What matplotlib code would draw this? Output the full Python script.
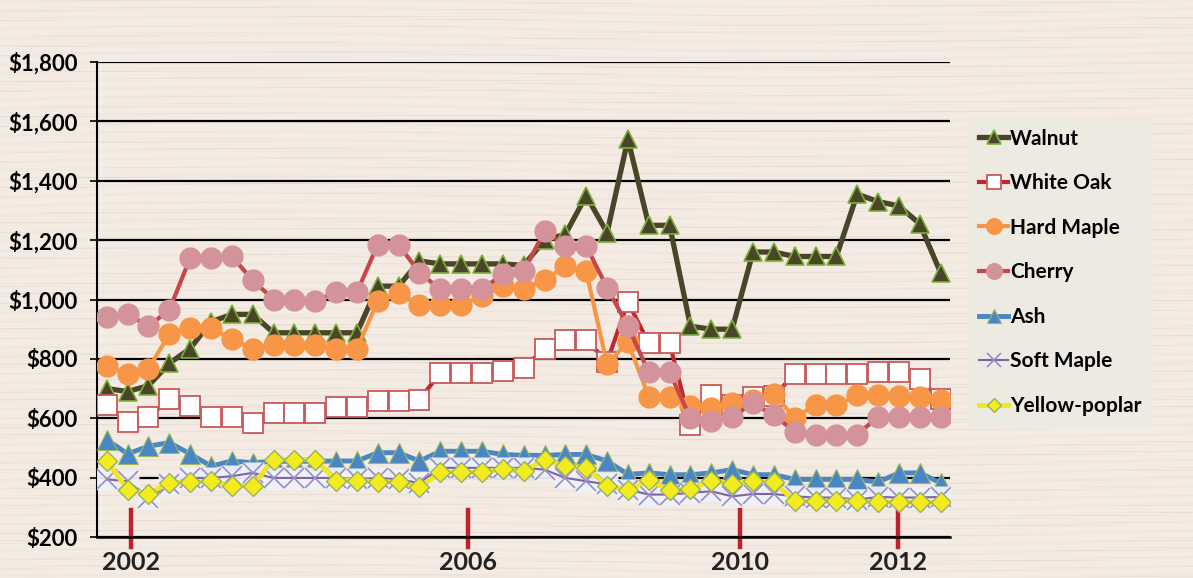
import matplotlib
matplotlib.use("Agg")
import matplotlib.pyplot as plt
import numpy as np

# precios trimestrales por especie ($/MBF)
walnut = [700, 690, 710, 785, 835, 925, 950, 950, 888, 888, 888, 888, 888, 1045, 1045,
          1130, 1120, 1120, 1120, 1120, 1115, 1200, 1220, 1350, 1225, 1540, 1250, 1250,
          910, 900, 900, 1160, 1160, 1145, 1145, 1145, 1355, 1330, 1315, 1255, 1090]
white_oak = [646, 587, 603, 665, 641, 603, 603, 584, 618, 618, 618, 638, 638, 658, 658,
             663, 753, 753, 753, 759, 770, 835, 864, 864, 790, 992, 852, 852, 579, 680,
             645, 670, 674, 750, 750, 750, 750, 757, 757, 731, 665]
hard_maple = [775, 748, 767, 883, 905, 905, 866, 834, 846, 846, 846, 834, 834, 995, 1023,
              982, 982, 982, 1012, 1046, 1035, 1067, 1112, 1095, 782, 857, 672, 672, 641,
              635, 650, 660, 683, 601, 645, 645, 677, 680, 675, 672, 660]
cherry = [940, 950, 910, 965, 1140, 1140, 1145, 1065, 1000, 1000, 995, 1025, 1025, 1185,
          1185, 1090, 1035, 1035, 1035, 1085, 1095, 1230, 1180, 1180, 1040, 910, 755, 755,
          600, 590, 605, 650, 610, 555, 545, 545, 545, 605, 605, 605, 605]
ash = [528, 480, 506, 518, 480, 439, 456, 450, 455, 455, 455, 456, 456, 484, 484, 456,
       489, 489, 489, 478, 475, 475, 478, 478, 456, 411, 416, 410, 410, 416, 427, 410,
       410, 394, 394, 394, 394, 385, 416, 416, 382]
soft_maple = [394, 388, 332, 377, 399, 399, 405, 416, 399, 399, 399, 399, 395, 399, 394,
              382, 433, 433, 433, 433, 433, 427, 399, 388, 377, 360, 343, 343, 349, 354,
              337, 345, 345, 337, 333, 333, 326, 335, 333, 333, 335]
yellow_poplar = [456, 360, 346, 382, 385, 388, 373, 373, 461, 461, 461, 390, 390, 386,
                 385, 367, 418, 418, 418, 430, 421, 461, 438, 433, 373, 358, 392, 358,
                 363, 388, 380, 388, 385, 321, 321, 321, 321, 317, 317, 317, 317]

year_pos = [1.15, 17.34, 30.37, 37.95]
year_labels = ["2002", "2006", "2010", "2012"]
y_ticks = [200, 400, 600, 800, 1000, 1200, 1400, 1600, 1800]

x = np.arange(len(walnut))
font = "Lato"

fig = plt.figure(figsize=(11.93, 5.78), dpi=100)
fig.patch.set_facecolor("#F4EAE2")

# fondo tipo madera (vetas horizontales suaves)
bg = fig.add_axes([0, 0, 1, 1], zorder=-10)
yy = np.linspace(0, 1, 578)[:, None]
xx = np.linspace(0, 1, 1193)[None, :]
veta = (0.5 * np.sin(yy * 410 + 3 * np.sin(xx * 7)) + 0.3 * np.sin(yy * 1130 + xx * 5)
        + 0.2 * np.sin(yy * 2600 + 2 * np.sin(xx * 13)))
veta = (veta - veta.min()) / (veta.max() - veta.min())
base = np.array([245, 236, 228]) / 255.0
oscuro = np.array([232, 220, 211]) / 255.0
tex = base + (oscuro - base) * (veta[..., None] ** 4)
bg.imshow(tex, aspect="auto", extent=[0, 1, 0, 1])
bg.axis("off")

ax = fig.add_axes([0.0813, 0.0709, 0.715, 0.8218])
ax.set_facecolor("none")

ax.plot(x, walnut, color="#4A4528", lw=3.8, marker="^", ms=13, mfc="#4A4528",
        mec="#7DAF3C", mew=1.2, label="Walnut", zorder=3)
ax.plot(x, white_oak, color="#C0282D", lw=3, marker="s", ms=14, mfc="white",
        mec="#C9585A", mew=1.3, label="White Oak", zorder=4)
ax.plot(x, hard_maple, color="#F79646", lw=3, marker="o", ms=15, mfc="#F79646",
        mec="#F79646", label="Hard Maple", zorder=5)
ax.plot(x, cherry, color="#C8454A", lw=3, marker="o", ms=15, mfc="#D4939A",
        mec="#D4939A", label="Cherry", zorder=6)
ax.plot(x, ash, color="#4A86C6", lw=3.5, marker="^", ms=14, mfc="#4A86C6",
        mec="#9BBB59", mew=0.8, label="Ash", zorder=7)
ax.plot(x, soft_maple, ls="none", marker="s", ms=16, mfc="#EEF2F8", mec="none",
        alpha=0.95, zorder=8)
ax.plot(x, soft_maple, color="#7F63A8", lw=1.5, marker="x", ms=14, mec="#9A8CC4",
        mew=1.2, label="Soft Maple", zorder=8)
ax.plot(x, yellow_poplar, color="#F0E81E", lw=3.5, marker="D", ms=10, mfc="#F2EB1E",
        mec="#9AAF6A", mew=1.0, label="Yellow-poplar", zorder=9)

ax.set_xlim(-0.47, 40.45)
ax.set_ylim(200, 1800)
ax.set_yticks(y_ticks)
ax.set_yticklabels(["${:,}".format(v) for v in y_ticks], fontsize=16,
                   fontweight="bold", family=font)
ax.yaxis.grid(True, color="black", lw=1.6)
ax.set_axisbelow(True)
ax.tick_params(axis="y", length=5, width=1.2, pad=9)

ax.set_xticks(year_pos)
ax.set_xticklabels(year_labels, fontsize=18, fontweight="bold", family=font,
                   color="#222222")
ax.tick_params(axis="x", length=0, pad=10)
for p in year_pos:
    ax.plot([p, p], [-0.021, 0.057], color="#C0202D", lw=3.2,
            transform=ax.get_xaxis_transform(), clip_on=False, zorder=2)

for s in ["top", "right"]:
    ax.spines[s].set_visible(False)
ax.spines["left"].set_linewidth(1.5)
ax.spines["bottom"].set_linewidth(1.8)

leg = fig.legend(loc="upper left", bbox_to_anchor=(0.811, 0.7975),
                 prop={"family": font, "weight": "bold", "size": 15},
                 frameon=True, facecolor="#ECEAE1", edgecolor="none", framealpha=1,
                 handlelength=1.4, handletextpad=0.1, labelspacing=1.18,
                 borderpad=0.55, borderaxespad=0, markerscale=0.75, fancybox=False)

fig.savefig("out.png", dpi=100, facecolor=fig.get_facecolor())
